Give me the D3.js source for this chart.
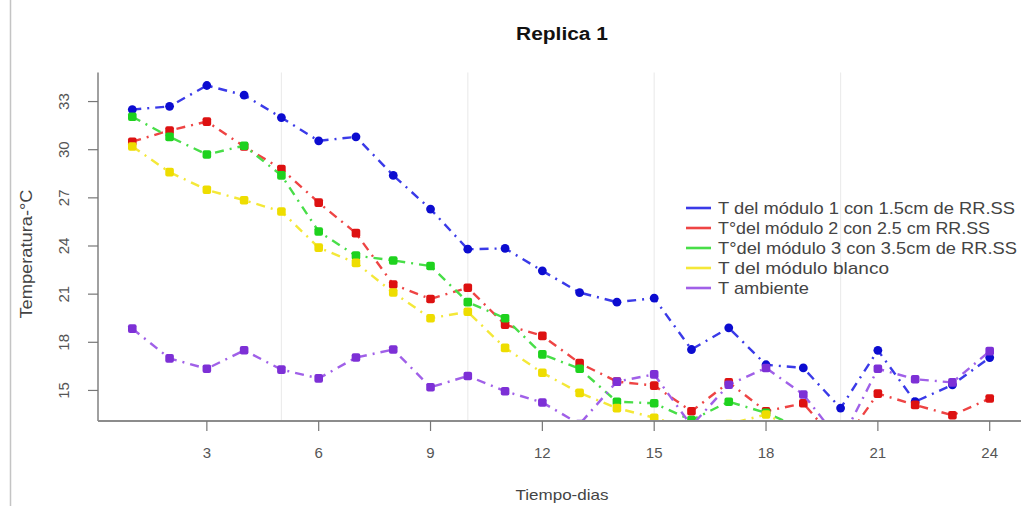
<!DOCTYPE html>
<html lang="es">
<head>
    <meta charset="UTF-8">
    <title>Replica 1</title>
    <script src="https://d3js.org/d3.v7.min.js"></script>
    <style>
        body { margin: 0; background: #fff; }
        svg { font-family: "Liberation Sans", Arial, sans-serif; }
        .tick-label { fill: #555; font-size: 15px; }
        .axis-label { fill: #444; }
        .legend-text { fill: #444; font-size: 17px; }
    </style>
</head>
<body>
    <div id="chart"></div>

    <script>
        // dias de medicion
        const dias = d3.range(1, 25);

        // temperaturas (valores por debajo de ~13 quedan recortados)
        const tModulo1 = [32.5, 32.7, 34.0, 33.4, 32.0, 30.55, 30.8, 28.4, 26.3, 23.8, 23.85, 22.45,
                          21.1, 20.5, 20.75, 17.55, 18.9, 16.6, 16.4, 13.9, 17.5, 14.3, 15.35, 17.05];
        const tModulo2 = [30.5, 31.2, 31.75, 30.2, 28.8, 26.7, 24.8, 21.6, 20.7, 21.4, 19.1, 18.4,
                          16.7, 15.55, 15.3, 13.7, 15.5, 13.7, 14.2, 11.5, 14.8, 14.1, 13.45, 14.5];
        const tModulo3 = [32.05, 30.8, 29.7, 30.25, 28.4, 24.9, 23.4, 23.1, 22.75, 20.5, 19.5, 17.25,
                          16.35, 14.3, 14.2, 13.15, 14.3, 13.6, 12.6, 12.3, 12.5, 12.3, 12.2, 12.4];
        const tBlanco  = [30.2, 28.6, 27.5, 26.85, 26.15, 23.9, 22.95, 21.1, 19.5, 19.9, 17.65, 16.1,
                          14.85, 13.9, 13.3, 12.6, 12.9, 13.5, 12.4, 12.1, 12.2, 12.1, 12.0, 12.2];
        const tAmbiente = [18.85, 17.0, 16.35, 17.5, 16.3, 15.75, 17.05, 17.55, 15.2, 15.9, 14.95, 14.25,
                           12.9, 15.55, 16.0, 12.8, 15.35, 16.4, 14.75, 11.8, 16.35, 15.7, 15.5, 17.45];

        const leyenda = ["T del módulo 1 con 1.5cm de RR.SS",
                         "T°del módulo 2 con 2.5 cm RR.SS",
                         "T°del módulo 3 con 3.5cm de RR.SS",
                         "T del módulo blanco",
                         "T ambiente"];

        const xTicks = [3, 6, 9, 12, 15, 18, 21, 24];
        const yTicks = [15, 18, 21, 24, 27, 30, 33];
        const gridX = [5, 10, 15, 20];

        const series = [
            { values: tModulo1, line: "#3a3ae8", point: "#0c0cd0", shape: "circle" },
            { values: tModulo2, line: "#ee4444", point: "#dd1111", shape: "square" },
            { values: tModulo3, line: "#48de48", point: "#1ed21e", shape: "square" },
            { values: tBlanco,  line: "#f4e838", point: "#eedd00", shape: "square" },
            { values: tAmbiente, line: "#a060e8", point: "#7d30d6", shape: "square" }
        ];

        const width = 1021, height = 506;
        const plotLeft = 98, plotRight = 1024, plotTop = 72.6, plotBottom = 421;

        const svg = d3.select("#chart")
            .append("svg")
            .attr("width", width)
            .attr("height", height);

        // R style 4% padding on both axes (y range taken from the first series)
        const x = d3.scaleLinear()
            .domain([1 - 0.92, 24 + 0.92])
            .range([plotLeft, plotRight]);

        const ext = d3.extent(tModulo1);
        const pad = (ext[1] - ext[0]) * 0.04;
        const y = d3.scaleLinear()
            .domain([ext[0] - pad, ext[1] + pad])
            .range([plotBottom, plotTop]);

        // faint frame line on the left of the picture
        svg.append("line")
            .attr("x1", 10.5).attr("x2", 10.5)
            .attr("y1", 0).attr("y2", height)
            .attr("stroke", "#c4c4c4")
            .attr("stroke-width", 1.5);

        // vertical grid lines
        svg.selectAll(".grid")
            .data(gridX)
            .enter()
            .append("line")
            .attr("x1", d => x(d)).attr("x2", d => x(d))
            .attr("y1", plotTop).attr("y2", plotBottom)
            .attr("stroke", "#ececec")
            .attr("stroke-width", 1.2);

        // clip for the plot region
        svg.append("clipPath")
            .attr("id", "plot-clip")
            .append("rect")
            .attr("x", plotLeft).attr("y", plotTop)
            .attr("width", plotRight - plotLeft).attr("height", plotBottom - plotTop);

        const plot = svg.append("g").attr("clip-path", "url(#plot-clip)");

        const line = d3.line()
            .x((d, i) => x(dias[i]))
            .y(d => y(d));

        series.forEach(s => {
            plot.append("path")
                .datum(s.values)
                .attr("fill", "none")
                .attr("stroke", s.line)
                .attr("stroke-width", 2.4)
                .attr("stroke-dasharray", "9,6,2,6")
                .attr("d", line);

            if (s.shape === "circle") {
                plot.selectAll(null)
                    .data(s.values)
                    .enter()
                    .append("circle")
                    .attr("cx", (d, i) => x(dias[i]))
                    .attr("cy", d => y(d))
                    .attr("r", 4.4)
                    .attr("fill", s.point);
            } else {
                plot.selectAll(null)
                    .data(s.values)
                    .enter()
                    .append("rect")
                    .attr("x", (d, i) => x(dias[i]) - 4.3)
                    .attr("y", d => y(d) - 4.3)
                    .attr("width", 8.6)
                    .attr("height", 8.6)
                    .attr("rx", 2)
                    .attr("fill", s.point);
            }
        });

        // axes (L shaped box like bty="l")
        svg.append("line")
            .attr("x1", plotLeft).attr("x2", plotLeft)
            .attr("y1", plotTop).attr("y2", plotBottom)
            .attr("stroke", "#808080").attr("stroke-width", 1.5);
        svg.append("line")
            .attr("x1", plotLeft).attr("x2", width)
            .attr("y1", plotBottom).attr("y2", plotBottom)
            .attr("stroke", "#8c8c8c").attr("stroke-width", 2);

        // x axis ticks
        svg.selectAll(".xtick")
            .data(xTicks)
            .enter()
            .append("line")
            .attr("x1", d => x(d)).attr("x2", d => x(d))
            .attr("y1", plotBottom).attr("y2", plotBottom + 10)
            .attr("stroke", "#777").attr("stroke-width", 1.2);

        svg.selectAll(".xlabel")
            .data(xTicks)
            .enter()
            .append("text")
            .attr("class", "tick-label")
            .attr("x", d => x(d))
            .attr("y", 458)
            .attr("text-anchor", "middle")
            .text(d => d);

        // y axis ticks
        svg.selectAll(".ytick")
            .data(yTicks)
            .enter()
            .append("line")
            .attr("x1", plotLeft - 10).attr("x2", plotLeft)
            .attr("y1", d => y(d)).attr("y2", d => y(d))
            .attr("stroke", "#777").attr("stroke-width", 1.2);

        svg.selectAll(".ylabel")
            .data(yTicks)
            .enter()
            .append("text")
            .attr("class", "tick-label")
            .attr("transform", d => `translate(69, ${y(d)}) rotate(-90)`)
            .attr("text-anchor", "middle")
            .text(d => d);

        // title
        svg.append("text")
            .attr("x", 562)
            .attr("y", 40)
            .attr("text-anchor", "middle")
            .style("font-size", "18px")
            .style("font-weight", "bold")
            .attr("fill", "#111")
            .attr("textLength", 92)
            .attr("lengthAdjust", "spacingAndGlyphs")
            .text("Replica 1");

        // axis titles
        svg.append("text")
            .attr("class", "axis-label")
            .attr("x", 562)
            .attr("y", 500)
            .attr("text-anchor", "middle")
            .style("font-size", "15px")
            .attr("textLength", 93)
            .attr("lengthAdjust", "spacingAndGlyphs")
            .text("Tiempo-dias");

        svg.append("text")
            .attr("class", "axis-label")
            .attr("transform", "translate(32, 254) rotate(-90)")
            .attr("text-anchor", "middle")
            .style("font-size", "16px")
            .attr("textLength", 129)
            .attr("lengthAdjust", "spacingAndGlyphs")
            .text("Temperatura-°C");

        // legend
        const legendWidths = [297, 272, 299, 171, 91];
        const legend = svg.append("g");
        series.forEach((s, i) => {
            const ly = 208 + i * 20;
            legend.append("line")
                .attr("x1", 686).attr("x2", 711)
                .attr("y1", ly).attr("y2", ly)
                .attr("stroke", s.line)
                .attr("stroke-width", 2.6);
            legend.append("text")
                .attr("class", "legend-text")
                .attr("x", 718)
                .attr("y", ly + 6)
                .attr("textLength", legendWidths[i])
                .attr("lengthAdjust", "spacingAndGlyphs")
                .text(leyenda[i]);
        });
    </script>
</body>
</html>
